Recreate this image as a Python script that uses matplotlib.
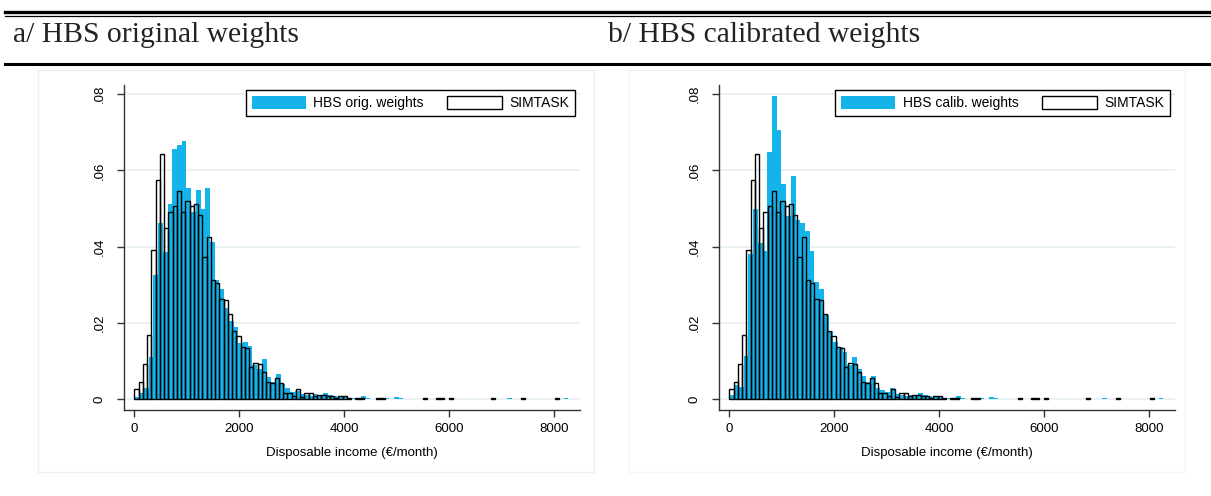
import numpy as np
import matplotlib
matplotlib.use("Agg")
import matplotlib.pyplot as plt
from matplotlib.patches import Patch, Rectangle
from matplotlib.lines import Line2D

plt.rcParams["font.family"] = ["Liberation Sans", "DejaVu Sans"]

# SIMTASK histogram (same in both panels): bins of 81 EUR from 0
simtask_width = 81
simtask = [
    0.0026, 0.0045, 0.0093, 0.0169, 0.0391, 0.0575, 0.0643, 0.0450, 0.0490, 0.0507,
    0.0546, 0.0490, 0.0520, 0.0507, 0.0513, 0.0483, 0.0372, 0.0426, 0.0313, 0.0304,
    0.0262, 0.0260, 0.0224, 0.0180, 0.0167, 0.0138, 0.0134, 0.0086, 0.0094, 0.0092,
    0.0071, 0.0045, 0.0044, 0.0057, 0.0042, 0.0017, 0.0016, 0.0010, 0.0028, 0.0007,
    0.0017, 0.0017, 0.0010, 0.0011, 0.0012, 0.0010, 0.0008, 0.0004, 0.0008, 0.0008,
    0.0004, 0, 0.0003, 0.0003, 0, 0, 0, 0.0003, 0.0004, 0,
    0, 0, 0, 0, 0, 0, 0, 0, 0.0003, 0,
    0, 0.0003, 0.0003, 0, 0.0003, 0, 0, 0, 0, 0,
    0, 0, 0, 0, 0.0003, 0, 0, 0, 0, 0,
    0, 0.0003, 0, 0, 0, 0, 0, 0, 0, 0.0004,
]

# HBS histograms: bins of 90 EUR from 0
hbs_width = 90
hbs_orig = [
    0.0007, 0.0017, 0.0030, 0.0110, 0.0326, 0.0461, 0.0385, 0.0512, 0.0656, 0.0666,
    0.0677, 0.0555, 0.0490, 0.0548, 0.0500, 0.0553, 0.0413, 0.0313, 0.0290, 0.0240,
    0.0205, 0.0189, 0.0147, 0.0150, 0.0140, 0.0090, 0.0080, 0.0106, 0.0058, 0.0045,
    0.0066, 0.0040, 0.0029, 0.0020, 0.0022, 0.0015, 0.0012, 0.0010, 0.0014, 0.0008,
    0.0016, 0.0012, 0.0008, 0.0005, 0.0006, 0.0003, 0.0004, 0, 0.0008, 0.0003,
    0, 0, 0, 0.0004, 0, 0.0005, 0.0004, 0, 0, 0,
    0, 0, 0, 0, 0, 0, 0, 0, 0, 0,
    0, 0, 0, 0, 0, 0, 0, 0, 0, 0.0004,
    0, 0, 0, 0, 0, 0, 0, 0, 0, 0,
    0, 0.0003,
]
hbs_calib = [
    0.0011, 0.0038, 0.0031, 0.0114, 0.0380, 0.0500, 0.0410, 0.0390, 0.0649, 0.0795,
    0.0706, 0.0564, 0.0480, 0.0585, 0.0470, 0.0461, 0.0440, 0.0390, 0.0307, 0.0288,
    0.0220, 0.0180, 0.0150, 0.0138, 0.0125, 0.0090, 0.0110, 0.0080, 0.0060, 0.0045,
    0.0061, 0.0030, 0.0025, 0.0020, 0.0029, 0.0015, 0.0012, 0.0010, 0.0012, 0.0008,
    0.0017, 0.0012, 0.0008, 0.0005, 0.0005, 0.0003, 0.0004, 0, 0.0008, 0.0003,
    0, 0, 0, 0.0004, 0, 0.0005, 0.0004, 0, 0, 0,
    0, 0, 0, 0, 0, 0, 0, 0, 0, 0,
    0, 0, 0, 0, 0, 0, 0, 0, 0, 0.0004,
    0, 0, 0, 0, 0, 0, 0, 0, 0, 0,
    0, 0.0003,
]

panel_titles = ["a/ HBS original weights", "b/ HBS calibrated weights"]
hbs_labels = ["HBS orig. weights", "HBS calib. weights"]
xticks = [0, 2000, 4000, 6000, 8000]
yticks = [0, 0.02, 0.04, 0.06, 0.08]
ytick_labels = ["0", ".02", ".04", ".06", ".08"]
xlabel = "Disposable income (\u20ac/month)"

W, H = 1211, 496
BLUE = "#14b4ea"
GRID = "#e6eff1"

fig = plt.figure(figsize=(W / 100, H / 100), dpi=100)


def fx(px):
    return px / W


def fy(py):
    return 1 - py / H


# horizontal rules
fig.add_artist(Line2D([fx(5), 1], [fy(12), fy(12)], color="black", lw=2.4))
fig.add_artist(Line2D([fx(5), 1], [fy(15.5), fy(15.5)], color="black", lw=0.9))
fig.add_artist(Line2D([fx(5), 1], [fy(63.5), fy(63.5)], color="black", lw=2.2))

# faint graph-region frames
fig.add_artist(Rectangle((fx(38), fy(472)), fx(594) - fx(38), fy(70) - fy(472),
                         fill=False, ec="#e9f1f4", lw=1.0))
fig.add_artist(Rectangle((fx(629), fy(472)), fx(1185) - fx(629), fy(70) - fy(472),
                         fill=False, ec="#f4f4f4", lw=1.0))

# (axes left px, hbs data, legend right px, title x px)
panels = [
    (124, hbs_orig, 575, 13),
    (719, hbs_calib, 1170, 608),
]

for i, (left_px, hbs, leg_right, title_x) in enumerate(panels):
    ax = fig.add_axes([fx(left_px), fy(410), 456 / W, (410 - 85) / H])

    h = np.array(hbs)
    e = np.arange(len(h)) * hbs_width
    m = h > 0
    ax.bar(e[m], h[m], width=hbs_width, align="edge", color=BLUE,
           linewidth=0, zorder=2)

    s = np.array(simtask)
    es = np.arange(len(s)) * simtask_width
    ms = s > 0
    ax.bar(es[ms], s[ms], width=simtask_width, align="edge", facecolor="none",
           edgecolor="black", linewidth=1.0, zorder=3)

    ax.set_xlim(-200, 8500)
    ax.set_ylim(-0.0028, 0.0824)
    ax.set_xticks(xticks)
    ax.set_yticks(yticks)
    ax.set_yticklabels(ytick_labels)
    ax.tick_params(axis="y", labelrotation=90, length=5, width=1, color="#333333",
                   labelsize=9.5, pad=8)
    for lab in ax.get_yticklabels():
        lab.set_va("center")
    ax.tick_params(axis="x", length=5, width=1, color="#333333", labelsize=9.5, pad=4)
    ax.set_xlabel(xlabel, fontsize=9.5, labelpad=9)
    ax.grid(axis="y", color=GRID, lw=1.2, zorder=0)
    ax.set_axisbelow(True)
    for sp in ["top", "right"]:
        ax.spines[sp].set_visible(False)
    for sp in ["left", "bottom"]:
        ax.spines[sp].set_color("#333333")
        ax.spines[sp].set_linewidth(1.0)

    handles = [Patch(facecolor=BLUE, edgecolor=BLUE, lw=0),
               Patch(facecolor="white", edgecolor="black", lw=1.0)]
    leg = ax.legend(handles, [hbs_labels[i], "SIMTASK"], ncol=2,
                    loc="upper right", bbox_to_anchor=(fx(leg_right), fy(90)),
                    bbox_transform=fig.transFigure, borderaxespad=0,
                    fontsize=10, handlelength=3.9, handleheight=1.1,
                    handletextpad=0.55, columnspacing=1.7, borderpad=0.42,
                    fancybox=False, framealpha=1, edgecolor="black")
    leg.get_frame().set_linewidth(1.0)

    fig.text(fx(title_x), fy(35.5), panel_titles[i], family="Liberation Serif",
             fontsize=21.3, va="center", ha="left", color="#222222")

fig.savefig("out.png", dpi=100)
